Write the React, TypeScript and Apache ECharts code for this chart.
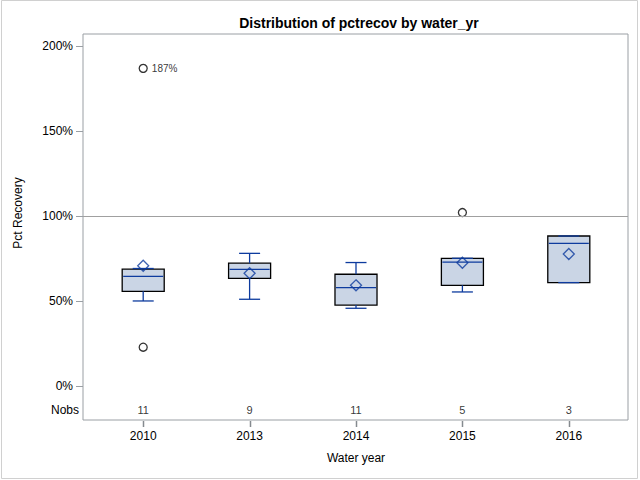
import React, { useEffect, useRef } from "react";
import * as echarts from "echarts";

const years = ["2010", "2013", "2014", "2015", "2016"];
const whiskerLow = [50, 51, 45.7, 55.3, 60.8];
const q1 = [55.7, 63.3, 47.6, 59.2, 60.8];
const median = [64.5, 68.6, 57.8, 72.9, 83.9];
const q3 = [68.7, 72.2, 65.7, 75.1, 88.2];
const whiskerHigh = [69.1, 78, 72.6, 75.1, 88.2];
const means = [70.7, 66.3, 59.2, 72.5, 77.6];
const nobs = [11, 9, 11, 5, 3];
const outlierYears = ["2010", "2010", "2015"];
const outlierValues = [22.8, 186.8, 102];
const outlierLabels = ["", "187%", ""];
const yTicks = [0, 50, 100, 150, 200];
const referenceValue = 100;
const nobsRowValue = -14;
const yMin = -20;
const yMax = 207;

const FONT = 'Arial, "Liberation Sans", sans-serif';
const BLUE = "#0d3b9e";
const FILL = "#cad5e5";
const FRAME = "#9a9fa4";

export default function App() {
  const ref = useRef<HTMLDivElement>(null);

  useEffect(() => {
    if (!ref.current) return;
    const chart = echarts.init(ref.current, null, { renderer: "svg" });

    const boxData = years.map((y, i) => [i, whiskerLow[i], q1[i], median[i], q3[i], whiskerHigh[i]]);
    const meanData = years.map((y, i) => [y, means[i]]);
    const nobsData = years.map((y, i) => ({ value: [y, nobsRowValue], label: { formatter: String(nobs[i]) } }));
    const outlierData = outlierValues.map((v, i) => ({
      value: [outlierYears[i], v],
      label: outlierLabels[i]
        ? { show: true, formatter: outlierLabels[i], position: "right", distance: 4, fontSize: 10, color: "#000", fontFamily: FONT }
        : { show: false },
    }));

    const option: any = {
      animation: false,
      backgroundColor: "#fff",
      textStyle: { fontFamily: FONT },
      grid: [
        { left: 83, right: 12, top: 34, bottom: 60, show: true, borderColor: FRAME, borderWidth: 1, backgroundColor: "transparent", outerBoundsMode: "none" },
        { left: 90, right: 18, top: 34, bottom: 60, outerBoundsMode: "none" },
      ],
      xAxis: [
        { type: "value", gridIndex: 0, min: 0, max: 1, show: false },
        {
          type: "category",
          gridIndex: 1,
          data: years,
          position: "bottom",
          boundaryGap: true,
          axisLine: { show: false, onZero: false },
          axisTick: { show: false },
          axisLabel: { color: "#000", fontSize: 12, margin: 10, fontFamily: FONT, interval: 0 },
          splitLine: { show: false },
          name: "Water year",
          nameLocation: "middle",
          nameGap: 32,
          nameTextStyle: { color: "#000", fontSize: 12, fontFamily: FONT },
        },
      ],
      yAxis: [
        {
          type: "value",
          gridIndex: 0,
          min: yMin,
          max: yMax,
          axisLine: { show: false, onZero: false },
          axisTick: { show: true, customValues: yTicks, length: 7, lineStyle: { color: FRAME } },
          axisLabel: { show: true, customValues: yTicks, formatter: (v: number) => v + "%", color: "#000", fontSize: 12, margin: 10, fontFamily: FONT },
          splitLine: { show: false },
        },
        {
          type: "value",
          gridIndex: 1,
          min: yMin,
          max: yMax,
          axisLine: { show: false },
          axisTick: { show: false },
          axisLabel: { show: false },
          splitLine: { show: false },
        },
      ],
      graphic: [
        { type: "rect", shape: { x: 1.5, y: 0.5, width: 636, height: 478 }, style: { fill: "none", stroke: "#d0d0d0", lineWidth: 1 }, silent: true },
        { type: "text", x: 359, y: 23, style: { text: "Distribution of pctrecov by water_yr", fill: "#000", font: `bold 14px ${FONT}`, align: "center", verticalAlign: "middle" } },
        { type: "text", x: 18, y: 213, rotation: Math.PI / 2, style: { text: "Pct Recovery", fill: "#000", font: `12px ${FONT}`, align: "center", verticalAlign: "middle" } },
        { type: "text", x: 79, y: 410, style: { text: "Nobs", fill: "#000", font: `12px ${FONT}`, align: "right", verticalAlign: "middle" } },
      ],
      series: [
        {
          type: "scatter",
          xAxisIndex: 0,
          yAxisIndex: 0,
          data: [],
          silent: true,
          markLine: {
            silent: true,
            symbol: "none",
            label: { show: false },
            lineStyle: { color: "#a0a0a0", type: "solid", width: 1 },
            data: [{ yAxis: referenceValue }],
          },
        },
        {
          type: "custom",
          xAxisIndex: 1,
          yAxisIndex: 1,
          data: boxData,
          clip: false,
          encode: { x: 0, y: [1, 2, 3, 4, 5] },
          renderItem: (params: any, api: any) => {
            const i = api.value(0);
            const lo = api.coord([i, api.value(1)]);
            const b1 = api.coord([i, api.value(2)]);
            const md = api.coord([i, api.value(3)]);
            const b3 = api.coord([i, api.value(4)]);
            const hi = api.coord([i, api.value(5)]);
            const base = api.coord([i, yMin]);
            const band = api.size([1, 0])[0];
            const bw = band * 0.395;
            const cw = bw / 2;
            const x = lo[0];
            const tx = Math.round(x) + 0.5;
            const lw = 1.3;
            return {
              type: "group",
              children: [
                { type: "line", shape: { x1: tx, y1: base[1] + 1, x2: tx, y2: base[1] + 7 }, style: { stroke: "#858a8f", lineWidth: 1.5 } },
                { type: "rect", shape: { x: x - bw / 2, y: b3[1], width: bw, height: b1[1] - b3[1] }, style: { fill: FILL, stroke: "#000", lineWidth: lw } },
                { type: "line", shape: { x1: x - bw / 2 + 1, y1: md[1], x2: x + bw / 2 - 1, y2: md[1] }, style: { stroke: BLUE, lineWidth: lw } },
                { type: "line", shape: { x1: x, y1: b3[1], x2: x, y2: hi[1] }, style: { stroke: BLUE, lineWidth: lw } },
                { type: "line", shape: { x1: x, y1: b1[1], x2: x, y2: lo[1] }, style: { stroke: BLUE, lineWidth: lw } },
                { type: "line", shape: { x1: x - cw / 2, y1: hi[1], x2: x + cw / 2, y2: hi[1] }, style: { stroke: BLUE, lineWidth: lw } },
                { type: "line", shape: { x1: x - cw / 2, y1: lo[1], x2: x + cw / 2, y2: lo[1] }, style: { stroke: BLUE, lineWidth: lw } },
              ],
            };
          },
          z: 2,
        },
        {
          type: "scatter",
          xAxisIndex: 1,
          yAxisIndex: 1,
          data: meanData,
          symbol: "diamond",
          symbolSize: [11, 11],
          itemStyle: { color: "transparent", borderColor: BLUE, borderWidth: 1.3 },
          z: 3,
        },
        {
          type: "scatter",
          xAxisIndex: 1,
          yAxisIndex: 1,
          data: outlierData,
          symbol: "circle",
          symbolSize: 8,
          itemStyle: { color: "transparent", borderColor: "#000", borderWidth: 1.3 },
          z: 3,
        },
        {
          type: "scatter",
          xAxisIndex: 1,
          yAxisIndex: 1,
          data: nobsData,
          symbolSize: 1,
          itemStyle: { color: "transparent" },
          label: { show: true, position: "inside", color: "#000", fontSize: 11, fontFamily: FONT },
          z: 3,
        },
      ],
    };

    chart.setOption(option);
    return () => chart.dispose();
  }, []);

  return <div ref={ref} style={{ position: "fixed", left: 0, top: 0, width: 640, height: 480 }} />;
}
